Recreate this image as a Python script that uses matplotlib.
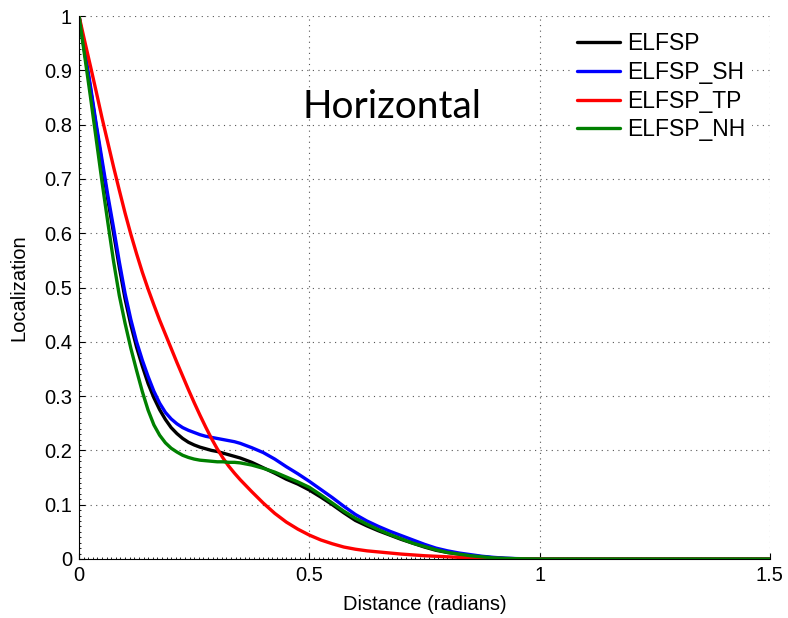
import numpy as np
import matplotlib.pyplot as plt
from matplotlib.ticker import MultipleLocator

plt.rcParams['font.family'] = ['Liberation Sans', 'DejaVu Sans']

dist = [0, 0.0125, 0.025, 0.0375, 0.05, 0.0625, 0.075, 0.0875, 0.1, 0.1125,
        0.125, 0.1375, 0.15, 0.1625, 0.175, 0.1875, 0.2, 0.2125, 0.225, 0.2375,
        0.25, 0.2625, 0.275, 0.2875, 0.3, 0.3125, 0.325, 0.3375, 0.35,
        0.375, 0.4, 0.425, 0.45, 0.475, 0.5, 0.525, 0.55, 0.575, 0.6,
        0.625, 0.65, 0.675, 0.7, 0.725, 0.75, 0.775, 0.8, 0.825, 0.85,
        0.875, 0.9, 0.925, 0.95, 1.0, 1.5]

elfsp = [1, .932, .865, .795, .727, .662, .6, .537, .479, .431,
         .39, .355, .323, .297, .275, .257, .242, .231, .222, .215,
         .21, .206, .203, .2, .198, .195, .192, .189, .186,
         .178, .168, .158, .147, .138, .127, .114, .1, .085, .071,
         .061, .052, .044, .036, .029, .022, .016, .012, .009, .006,
         .004, .002, .001, .0005, 0, 0]
elfsp_sh = [1, .935, .87, .8, .735, .67, .61, .547, .489, .441,
            .4, .366, .336, .309, .287, .27, .258, .249, .242, .237,
            .233, .229, .226, .224, .222, .22, .218, .216, .213,
            .205, .196, .184, .17, .157, .143, .128, .113, .097, .082,
            .07, .06, .051, .043, .035, .027, .02, .015, .011, .008,
            .005, .003, .0015, .0007, 0, 0]
elfsp_tp = [1, .953, .907, .86, .812, .767, .722, .679, .637, .598,
            .562, .528, .497, .468, .44, .414, .388, .362, .337, .312,
            .288, .265, .243, .222, .203, .186, .171, .158, .146,
            .124, .103, .084, .068, .055, .044, .035, .028, .022, .018,
            .015, .013, .011, .009, .0075, .006, .005, .004, .003, .002,
            .0015, .001, .0006, .0003, 0, 0]
elfsp_nh = [1, .925, .85, .772, .694, .62, .548, .485, .434, .388,
            .347, .308, .274, .247, .228, .214, .204, .197, .191, .187,
            .184, .182, .181, .18, .179, .179, .178, .178, .177,
            .173, .167, .16, .151, .142, .132, .118, .103, .088, .075,
            .064, .054, .045, .037, .029, .023, .017, .012, .009, .006,
            .004, .002, .001, .0005, 0, 0]

labels = ['ELFSP', 'ELFSP_SH', 'ELFSP_TP', 'ELFSP_NH']
colors = ['black', '#0000ff', '#ff0000', '#008000']

fig = plt.figure(figsize=(7.88, 6.18), dpi=100)
ax = fig.add_axes([0.1003, 0.0955, 0.8767, 0.8785])

for ys, lab, c in zip([elfsp, elfsp_sh, elfsp_tp, elfsp_nh], labels, colors):
    ax.plot(dist, ys, color=c, lw=2.4, label=lab,
            solid_joinstyle='round', solid_capstyle='round')

ax.set_xlim(0, 1.5)
ax.set_ylim(0, 1)
ax.set_xticks([0, 0.5, 1, 1.5])
ax.set_xticklabels(['0', '0.5', '1', '1.5'])
ax.set_yticks(np.arange(0, 1.01, 0.1))
ax.set_yticklabels(['0', '0.1', '0.2', '0.3', '0.4', '0.5', '0.6', '0.7', '0.8', '0.9', '1'])
ax.xaxis.set_minor_locator(MultipleLocator(0.01))
ax.yaxis.set_minor_locator(MultipleLocator(0.01))
ax.tick_params(which='major', direction='in', length=4.5, width=0.8, labelsize=14.5, pad=5)
ax.tick_params(which='minor', direction='in', length=1.6, width=0.6)

ax.grid(True, which='major', linestyle=(0, (1, 4)), color='#555555', lw=0.8)
ax.spines['top'].set_visible(False)
ax.spines['right'].set_visible(False)

ax.set_xlabel('Distance (radians)', fontsize=14.5, labelpad=7)
ax.set_ylabel('Localization', fontsize=14.5, labelpad=11)

ax.text(0.679, 0.832, 'Horizontal', fontsize=28, family=['Lato', 'DejaVu Sans'],
        ha='center', va='center')

leg = ax.legend(loc='upper right', bbox_to_anchor=(0.991, 1.004), fontsize=16.5,
                handlelength=1.9, handletextpad=0.3, labelspacing=0.25,
                borderpad=0.3, fancybox=False, framealpha=1, edgecolor='none')

fig.savefig('out.png', dpi=100)
